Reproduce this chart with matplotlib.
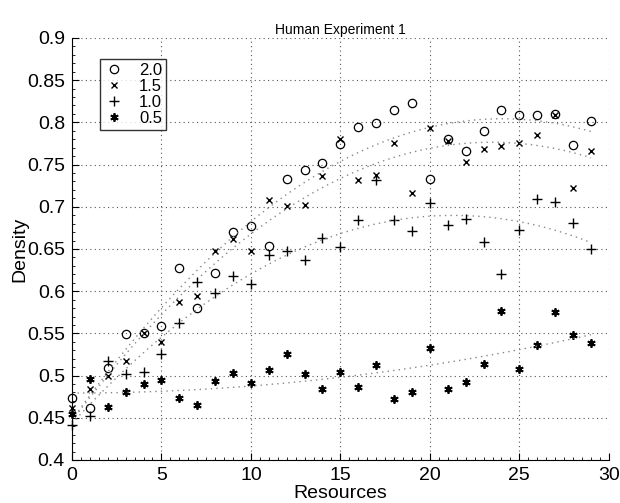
import numpy as np
import matplotlib
matplotlib.use("Agg")
import matplotlib.pyplot as plt
from matplotlib.ticker import MultipleLocator

plt.rcParams['font.family'] = ['Liberation Sans', 'DejaVu Sans']

resources = list(range(30))
dens_20 = [0.474, 0.462, 0.509, 0.549, 0.550, 0.559, 0.627, 0.580, 0.621, 0.670,
           0.677, 0.653, 0.733, 0.744, 0.752, 0.774, 0.795, 0.799, 0.815, 0.823,
           0.733, 0.780, 0.766, 0.790, 0.815, 0.809, 0.809, 0.810, 0.773, 0.802]
dens_15 = [0.462, 0.484, 0.499, 0.517, 0.550, 0.540, 0.587, 0.594, 0.648, 0.662,
           0.648, 0.708, 0.701, 0.702, 0.736, 0.780, 0.732, 0.738, 0.776, 0.716,
           0.793, 0.778, 0.753, 0.768, 0.772, 0.776, 0.785, 0.809, 0.722, 0.766]
dens_10 = [0.441, 0.452, 0.517, 0.502, 0.504, 0.526, 0.562, 0.611, 0.598, 0.618,
           0.608, 0.643, 0.648, 0.637, 0.663, 0.652, 0.684, 0.732, 0.684, 0.671,
           0.704, 0.679, 0.686, 0.658, 0.620, 0.673, 0.709, 0.706, 0.681, 0.650]
dens_05 = [0.455, 0.496, 0.463, 0.480, 0.490, 0.495, 0.474, 0.465, 0.493, 0.503,
           0.491, 0.507, 0.526, 0.502, 0.484, 0.504, 0.486, 0.513, 0.472, 0.480,
           0.533, 0.484, 0.492, 0.514, 0.577, 0.508, 0.536, 0.575, 0.548, 0.539]
labels = ['2.0', '1.5', '1.0', '0.5']
ytick_labels = ['0.4', '0.45', '0.5', '0.55', '0.6', '0.65', '0.7', '0.75', '0.8', '0.85', '0.9']

fig = plt.figure(figsize=(6.2, 5.03), dpi=100)
ax = fig.add_axes([0.116, 0.0855, 0.866, 0.839])

series = [dens_20, dens_15, dens_10, dens_05]
styles = [
    dict(marker='o', markersize=6, markerfacecolor='none', markeredgecolor='black', markeredgewidth=0.9),
    dict(marker='x', markersize=4.5, color='black', markeredgewidth=1.0),
    dict(marker='+', markersize=7, color='black', markeredgewidth=1.0),
    dict(marker=(6, 2, 0), markersize=6, color='black', markeredgewidth=1.3),
]
x = np.array(resources, dtype=float)
xf = np.linspace(x.min(), x.max(), 200)
for ys, lab, st in zip(series, labels, styles):
    y = np.array(ys)
    ax.plot(x, y, linestyle='none', label=lab, clip_on=False, **st)
    coef = np.polyfit(x, y, 2)
    ax.plot(xf, np.polyval(coef, xf), linestyle=(0, (1, 3)), color='#888888', linewidth=1.0)

ax.set_xlim(0, 30)
ax.set_ylim(0.4, 0.9)
ax.xaxis.set_major_locator(MultipleLocator(5))
ax.set_yticks(np.linspace(0.4, 0.9, 11))
ax.set_yticklabels(ytick_labels)
ax.xaxis.set_minor_locator(MultipleLocator(0.5))
ax.yaxis.set_minor_locator(MultipleLocator(0.01))
ax.tick_params(which='both', direction='in', top=False, right=False, labelsize=14)
ax.tick_params(which='major', length=5, pad=5)
ax.tick_params(which='minor', length=2.5)
ax.spines['top'].set_visible(False)
ax.spines['right'].set_visible(False)
ax.grid(True, which='major', linestyle=(0, (1, 3)), color='#555555', linewidth=0.8)

ax.set_xlabel('Resources', fontsize=14, labelpad=1)
ax.set_ylabel('Density', fontsize=14, labelpad=-1)
ax.set_title('Human Experiment 1', fontsize=10, pad=3)

leg = ax.legend(loc='upper left', bbox_to_anchor=(0.052, 0.95), frameon=True, fancybox=False,
                edgecolor='black', fontsize=12, handlelength=1.2, handletextpad=0.9,
                borderpad=0.25, labelspacing=0.05, borderaxespad=0)
leg.get_frame().set_linewidth(1.0)

fig.savefig('out.png', dpi=100, facecolor='white')
